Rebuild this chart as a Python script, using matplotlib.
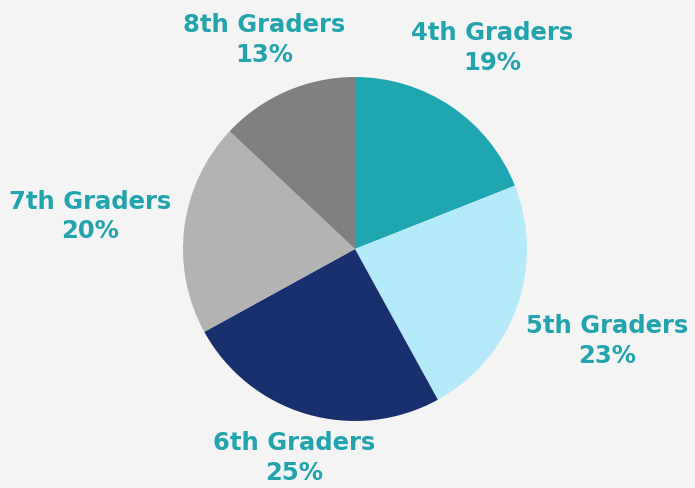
import numpy as np
import matplotlib.pyplot as plt

grades = ['4th Graders', '5th Graders', '6th Graders', '7th Graders', '8th Graders']
shares = [19, 23, 25, 20, 13]
colors = ['#20A6B0', '#B5EAFB', '#19306E', '#B3B3B3', '#808080']
label_dist = [1.42, 1.56, 1.26, 1.55, 1.33]

bg = '#F4F4F4'
fig = plt.figure(figsize=(6.95, 4.89), dpi=100, facecolor=bg)
ax = fig.add_axes([0, 0, 1, 1])
ax.set_facecolor(bg)

wedges, _ = ax.pie(shares, colors=colors, startangle=90, counterclock=False,
                   radius=1, wedgeprops=dict(linewidth=0))

for w, name, pct, d in zip(wedges, grades, shares, label_dist):
    ang = np.deg2rad((w.theta1 + w.theta2) / 2)
    ax.text(d * np.cos(ang), d * np.sin(ang), f'{name}\n{pct}%',
            ha='center', va='center', color='#22A4AE', fontsize=17.5,
            fontweight='bold', linespacing=1.3, family='DejaVu Sans')

# pixel-to-data mapping: radius 172 px, centre at (355, 250)
ax.set_xlim(-355 / 172, 340 / 172)
ax.set_ylim(-239 / 172, 250 / 172)
ax.set_aspect('equal')
ax.axis('off')

fig.savefig('out.png', dpi=100, facecolor=bg)
